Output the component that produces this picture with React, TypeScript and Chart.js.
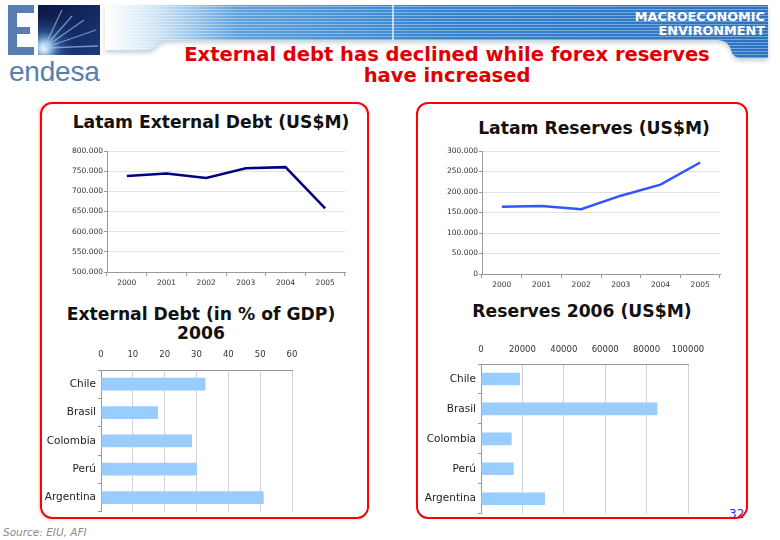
import React, { useEffect, useRef } from 'react';
import { Chart, registerables } from 'chart.js';
Chart.register(...registerables);

// ---------- data ----------
const years = ['2000', '2001', '2002', '2003', '2004', '2005'];
const externalDebt = [738000, 744000, 733000, 757000, 760000, 658000];
const reserves = [164000, 166000, 158000, 191000, 218000, 272000];
const countries = ['Chile', 'Brasil', 'Colombia', 'Perú', 'Argentina'];
const debtPctGdp = [32.8, 17.9, 28.6, 30.1, 51.1];
const reserves2006 = [18800, 85200, 14800, 15800, 30900];

const debtAxis = { min: 500000, max: 800000, step: 50000 };
const reservesAxis = { min: 0, max: 300000, step: 50000 };
const pctAxis = { min: 0, max: 60, step: 10 };
const res2006Axis = { min: 0, max: 100000, step: 20000 };

const TICK_FONT = 'DejaVu Sans';
const fmtDots = (v: number) => String(v).replace(/\B(?=(\d{3})+(?!\d))/g, '.');

function lineConfig(values: number[], color: string, ax: any, pad: any, yWidth: number, xHeight: number): any {
  return {
    type: 'line',
    data: {
      labels: years,
      datasets: [{ data: values, borderColor: color, borderWidth: 2.5, pointRadius: 0, tension: 0, fill: false }],
    },
    options: {
      responsive: false,
      animation: false,
      devicePixelRatio: 1,
      layout: { padding: pad },
      plugins: { legend: { display: false }, tooltip: { enabled: false }, title: { display: false } },
      scales: {
        x: {
          offset: true,
          grid: { display: true, drawOnChartArea: false, offset: true, tickLength: 4, color: '#999' },
          border: { color: '#999' },
          ticks: { font: { family: TICK_FONT, size: 7.5 }, color: '#333', padding: 3, maxRotation: 0 },
          afterFit: (s: any) => { s.height = xHeight; },
        },
        y: {
          min: ax.min,
          max: ax.max,
          ticks: {
            stepSize: ax.step,
            font: { family: TICK_FONT, size: 7.5 },
            color: '#333',
            padding: 1,
            callback: (v: any) => fmtDots(Number(v)),
          },
          grid: { color: '#e2e2e2', tickColor: '#999', tickLength: 3 },
          border: { color: '#999' },
          afterFit: (s: any) => { s.width = yWidth; },
        },
      },
    },
  };
}

function barConfig(values: number[], ax: any, pad: any, yWidth: number, xHeight: number, xPad: number, barPct: number): any {
  return {
    type: 'bar',
    data: {
      labels: countries,
      datasets: [{ data: values, backgroundColor: '#99CCFF', barPercentage: barPct, categoryPercentage: 1 }],
    },
    options: {
      indexAxis: 'y',
      responsive: false,
      animation: false,
      devicePixelRatio: 1,
      layout: { padding: pad },
      plugins: { legend: { display: false }, tooltip: { enabled: false } },
      scales: {
        x: {
          position: 'top',
          min: ax.min,
          max: ax.max,
          ticks: {
            stepSize: ax.step,
            font: { family: TICK_FONT, size: 8.5 },
            color: '#333',
            padding: xPad,
            maxRotation: 0,
            callback: (v: any) => String(v),
          },
          grid: { color: '#d4d4d4', tickLength: 0 },
          border: { color: '#999' },
          afterFit: (s: any) => { s.height = xHeight; },
        },
        y: {
          grid: { drawOnChartArea: false, offset: true, tickLength: 3, color: '#999' },
          border: { color: '#999' },
          ticks: { font: { family: TICK_FONT, size: 10.5 }, color: '#222', padding: 2 },
          afterFit: (s: any) => { s.width = yWidth; },
        },
      },
    },
  };
}

function ChartCanvas({ left, top, width, height, config }: any) {
  const ref = useRef<HTMLCanvasElement>(null);
  useEffect(() => {
    if (!ref.current) return;
    const chart = new Chart(ref.current, config());
    return () => chart.destroy();
  }, []);
  return (
    <canvas
      ref={ref}
      width={width}
      height={height}
      style={{ position: 'absolute', left, top, width, height }}
    />
  );
}

const titleFont: React.CSSProperties = {
  position: 'absolute',
  fontFamily: 'DejaVu Sans',
  fontWeight: 'bold',
  fontSize: 17.2,
  color: '#111',
  textAlign: 'center',
  whiteSpace: 'nowrap',
  lineHeight: '20px',
};

const bannerPath =
  'M105 5 H768 V58 H741 Q733 58 731 50 Q728 40 718 40 H170 Q160 40 157 45 Q154 50 146 50 H105 Z';

export default function App() {
  return (
    <div
      style={{
        position: 'absolute',
        left: 0,
        top: 0,
        width: 780,
        height: 540,
        overflow: 'hidden',
        background: '#ffffff',
        fontFamily: 'DejaVu Sans',
      }}
    >
      {/* header graphics */}
      <svg width={780} height={100} style={{ position: 'absolute', left: 0, top: 0 }}>
        <defs>
          <linearGradient id="bnr" x1="105" y1="0" x2="768" y2="0" gradientUnits="userSpaceOnUse">
            <stop offset="0" stopColor="#ffffff" />
            <stop offset="0.07" stopColor="#d4e7f6" />
            <stop offset="0.2" stopColor="#5ea2dc" />
            <stop offset="0.5" stopColor="#3885cf" />
            <stop offset="1" stopColor="#2b72c0" />
          </linearGradient>
          <pattern id="stripes" width="6" height="3" patternUnits="userSpaceOnUse">
            <rect width="6" height="1" fill="#ffffff" opacity="0.35" />
          </pattern>
          <filter id="blur" x="-5%" y="-20%" width="110%" height="160%">
            <feGaussianBlur stdDeviation="2" />
          </filter>
          <linearGradient id="sq" x1="0" y1="0" x2="1" y2="1">
            <stop offset="0" stopColor="#0b1743" />
            <stop offset="1" stopColor="#1c3a7c" />
          </linearGradient>
          <radialGradient id="glow" cx="44" cy="48" r="34" gradientUnits="userSpaceOnUse">
            <stop offset="0" stopColor="#ffffff" stopOpacity="1" />
            <stop offset="0.15" stopColor="#bfe2ff" stopOpacity="0.9" />
            <stop offset="0.5" stopColor="#4f8fd4" stopOpacity="0.35" />
            <stop offset="1" stopColor="#1c3a7c" stopOpacity="0" />
          </radialGradient>
        </defs>
        <path d={bannerPath} transform="translate(0,3)" fill="#8a9aaa" opacity="0.45" filter="url(#blur)" />
        <path d={bannerPath} fill="url(#bnr)" />
        <path d={bannerPath} fill="url(#stripes)" />
        <line x1={393} y1={5} x2={393} y2={40} stroke="#ffffff" strokeWidth={1.5} opacity={0.85} />
        {/* logo E */}
        <rect x={8} y={5} width={9} height={50} fill="#5a7db0" />
        <rect x={8} y={5} width={26} height={8} fill="#5a7db0" />
        <rect x={8} y={27} width={22} height={7} fill="#5a7db0" />
        <rect x={8} y={47} width={26} height={8} fill="#5a7db0" />
        <rect x={38} y={5} width={62} height={50} fill="url(#sq)" />
        <rect x={38} y={5} width={62} height={50} fill="url(#glow)" />
        <g stroke="#a8d4ff" strokeWidth={1.3} opacity={0.6}>
          <line x1={44} y1={48} x2={72} y2={16} />
          <line x1={44} y1={48} x2={96} y2={30} />
          <line x1={44} y1={48} x2={62} y2={10} />
          <line x1={44} y1={48} x2={98} y2={46} />
          <line x1={44} y1={48} x2={84} y2={20} />
        </g>
      </svg>
      <div
        style={{
          position: 'absolute',
          left: 9,
          top: 56,
          fontFamily: 'Liberation Sans',
          fontSize: 28,
          color: '#5a7db0',
          letterSpacing: -0.2,
          lineHeight: '32px',
        }}
      >
        endesa
      </div>
      <div
        style={{
          position: 'absolute',
          right: 15,
          top: 10,
          color: '#ffffff',
          fontFamily: 'DejaVu Sans',
          fontWeight: 'bold',
          fontSize: 12.8,
          textAlign: 'right',
          lineHeight: '14px',
        }}
      >
        MACROECONOMIC
        <br />
        ENVIRONMENT
      </div>
      <div
        style={{
          position: 'absolute',
          left: 147,
          width: 600,
          top: 44,
          color: '#dd0000',
          fontFamily: 'DejaVu Sans',
          fontWeight: 'bold',
          fontSize: 19.5,
          textAlign: 'center',
          lineHeight: '21px',
          whiteSpace: 'nowrap',
        }}
      >
        External debt has declined while forex reserves
        <br />
        have increased
      </div>

      {/* page number, behind the panel border */}
      <div
        style={{
          position: 'absolute',
          left: 729,
          top: 507,
          color: '#3333cc',
          fontFamily: 'DejaVu Sans',
          fontSize: 12,
        }}
      >
        32
      </div>

      {/* panels */}
      <div
        style={{
          position: 'absolute',
          left: 40,
          top: 102,
          width: 329,
          height: 417,
          boxSizing: 'border-box',
          border: '2px solid #ff0000',
          borderRadius: 12,
          boxShadow: '-1px 0 3px rgba(255,0,0,0.25)',
        }}
      />
      <div
        style={{
          position: 'absolute',
          left: 416,
          top: 102,
          width: 332,
          height: 417,
          boxSizing: 'border-box',
          border: '2px solid #ff0000',
          borderRadius: 12,
        }}
      />

      {/* chart titles */}
      <div style={{ ...titleFont, left: 211, top: 112, transform: 'translateX(-50%)' }}>Latam External Debt (US$M)</div>
      <div style={{ ...titleFont, left: 594, top: 118, transform: 'translateX(-50%)' }}>Latam Reserves (US$M)</div>
      <div style={{ ...titleFont, left: 201, top: 305, transform: 'translateX(-50%)', lineHeight: '19px' }}>
        External Debt (in % of GDP)
        <br />
        2006
      </div>
      <div style={{ ...titleFont, left: 582, top: 301, transform: 'translateX(-50%)' }}>Reserves 2006 (US$M)</div>

      {/* charts */}
      <ChartCanvas
        left={45}
        top={138}
        width={310}
        height={160}
        config={() => lineConfig(externalDebt, '#000080', debtAxis, { top: 13, right: 10, bottom: 0, left: 0 }, 62, 26)}
      />
      <ChartCanvas
        left={420}
        top={138}
        width={320}
        height={162}
        config={() => lineConfig(reserves, '#3355ff', reservesAxis, { top: 13, right: 20, bottom: 0, left: 0 }, 62, 26)}
      />
      <ChartCanvas
        left={45}
        top={340}
        width={320}
        height={180}
        config={() => barConfig(debtPctGdp, pctAxis, { top: 0, right: 73, bottom: 4, left: 0 }, 56, 30, 10, 0.45)}
      />
      <ChartCanvas
        left={420}
        top={330}
        width={320}
        height={192}
        config={() => barConfig(reserves2006, res2006Axis, { top: 0, right: 52, bottom: 4, left: 0 }, 61, 34, 9, 0.42)}
      />

      <div
        style={{
          position: 'absolute',
          left: 3,
          top: 526,
          color: '#8c8c8c',
          fontFamily: 'DejaVu Sans',
          fontStyle: 'italic',
          fontSize: 10.5,
        }}
      >
        Source: EIU, AFI
      </div>
    </div>
  );
}
